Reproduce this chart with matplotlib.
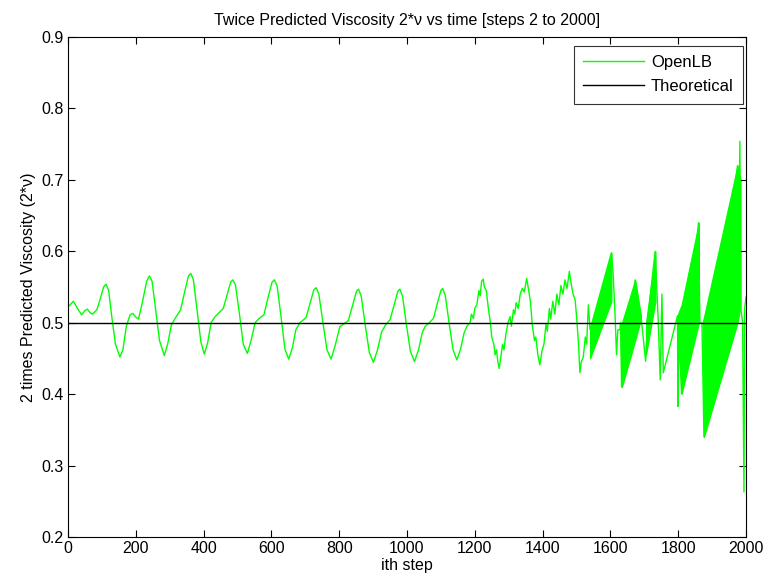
import numpy as np
import matplotlib
matplotlib.use("Agg")
import matplotlib.pyplot as plt

plt.rcParams['font.family'] = ['Liberation Sans', 'DejaVu Sans']

# OpenLB waypoints (step, 2*nu)
steps = [2, 10, 16, 28, 40, 50, 57, 65, 72, 85, 95, 105, 112, 120, 130, 140, 153, 162, 172, 183, 191, 200, 208,
         220, 232, 240, 248, 258, 270, 284, 294, 305, 316, 332, 345, 355, 362, 370, 380, 392, 402, 412, 422, 434,
         458, 470, 480, 486, 494, 505, 517, 529, 540, 552, 564, 578, 590, 602, 609, 617, 628, 640, 651, 662, 672,
         684, 702, 714, 725, 732, 740, 752, 764, 776, 788, 802, 827, 840, 851, 857, 865, 877, 889, 901, 913, 925,
         938, 950, 962, 973, 979, 987, 998, 1010, 1022, 1034, 1045, 1053, 1066, 1078, 1090, 1100, 1105, 1113, 1124,
         1136, 1147, 1158, 1168, 1176, 1186, 1190, 1196, 1200, 1206, 1212, 1216, 1220, 1225, 1228, 1234, 1240, 1246,
         1250, 1256, 1260, 1264, 1268, 1272, 1276, 1282, 1286, 1292, 1298, 1304, 1308, 1314, 1318, 1322, 1328, 1334,
         1340, 1346, 1353, 1358, 1364, 1370, 1376, 1380, 1386, 1392, 1398, 1404, 1410, 1414, 1420, 1424, 1430, 1436,
         1442, 1448, 1454, 1460, 1466, 1472, 1479, 1484, 1490, 1496, 1501, 1506, 1510, 1514, 1520, 1526, 1530, 1535,
         1540, 1603, 1608, 1614, 1618, 1622, 1628, 1630, 1633, 1673, 1690, 1704, 1710, 1732, 1741, 1747, 1752, 1756,
         1798, 1799, 1802, 1810, 1860, 1864, 1870, 1876, 1975, 1978, 1982, 1984, 1990, 1994, 1996, 2000]
viscosity = [0.523, 0.527, 0.530, 0.520, 0.511, 0.517, 0.519, 0.514, 0.512, 0.518, 0.533, 0.550, 0.554, 0.545, 0.505,
             0.470, 0.452, 0.462, 0.495, 0.511, 0.513, 0.508, 0.505,
             0.530, 0.558, 0.5655, 0.558, 0.520, 0.475, 0.454, 0.470, 0.497, 0.506, 0.518, 0.545, 0.565, 0.569, 0.560,
             0.520, 0.473, 0.456, 0.472, 0.500, 0.5085,
             0.520, 0.540, 0.557, 0.560, 0.553, 0.515, 0.470, 0.457, 0.475, 0.500, 0.506, 0.511, 0.535, 0.557, 0.560,
             0.551, 0.510, 0.463, 0.449, 0.465, 0.490,
             0.500, 0.507, 0.527, 0.546, 0.549, 0.540, 0.500, 0.462, 0.449, 0.468, 0.4945, 0.503, 0.525, 0.544, 0.547,
             0.537, 0.496, 0.458, 0.4445, 0.462, 0.487,
             0.498, 0.504, 0.525, 0.544, 0.547, 0.537, 0.498, 0.460, 0.4455, 0.462, 0.486, 0.4945, 0.500, 0.506, 0.528,
             0.545, 0.548, 0.538, 0.500,
             0.462, 0.448, 0.463, 0.485, 0.4945, 0.500, 0.512, 0.506, 0.520, 0.525, 0.545, 0.538, 0.558, 0.561, 0.550,
             0.545, 0.520, 0.500,
             0.480, 0.470, 0.455, 0.462, 0.445, 0.436, 0.450, 0.470, 0.462, 0.485, 0.500, 0.5085, 0.495, 0.518, 0.512,
             0.528, 0.520, 0.540,
             0.548, 0.543, 0.562, 0.548, 0.530, 0.495, 0.475, 0.480, 0.455, 0.441, 0.460, 0.470, 0.498, 0.488, 0.520,
             0.505, 0.530, 0.512,
             0.540, 0.525, 0.552, 0.540, 0.560, 0.548, 0.572, 0.555, 0.540, 0.532, 0.504, 0.470, 0.430, 0.445, 0.452,
             0.480, 0.470, 0.525,
             0.490, 0.598, 0.569, 0.508, 0.455, 0.490, 0.490, 0.500, 0.410, 0.560, 0.510, 0.446, 0.504, 0.600, 0.504,
             0.420, 0.540, 0.430,
             0.510, 0.3825, 0.510, 0.401, 0.640, 0.500, 0.500, 0.340, 0.720, 0.600, 0.754, 0.523, 0.500, 0.263, 0.520,
             0.536]

# period-2 oscillation bands at the end: steps, upper envelope, lower envelope
band_steps = [[1540, 1603], [1630, 1634, 1673, 1690], [1705, 1733], [1800, 1810, 1861], [1872, 1876, 1975, 1984]]
band_upper = [[0.49, 0.598], [0.50, 0.50, 0.56, 0.51], [0.50, 0.60], [0.513, 0.525, 0.64], [0.50, 0.508, 0.72, 0.70]]
band_lower = [[0.45, 0.53], [0.47, 0.41, 0.475, 0.505], [0.455, 0.53], [0.47, 0.40, 0.50], [0.47, 0.34, 0.50, 0.523]]

theory_value = 0.5

green = (0, 1, 0)
fs = 11.5

fig = plt.figure(figsize=(7.65, 5.83), dpi=100)
ax = fig.add_axes([68 / 765, 46 / 583, 678 / 765, 500 / 583])

ax.plot(steps, viscosity, color=green, lw=1.0, label='OpenLB')
for bx, bu, bl in zip(band_steps, band_upper, band_lower):
    ax.fill_between(bx, bl, bu, color=green, lw=0.8, edgecolor=green)
ax.plot([0, 2000], [theory_value, theory_value], color='black', lw=1.0, label='Theoretical')

ax.set_xlim(0, 2000)
ax.set_ylim(0.2, 0.9)
ax.set_xticks(np.arange(0, 2001, 200))
ax.set_yticks(np.arange(0.2, 0.91, 0.1))
ax.set_yticklabels(['0.2', '0.3', '0.4', '0.5', '0.6', '0.7', '0.8', '0.9'])
ax.tick_params(direction='in', top=True, right=True, length=5, width=0.8, labelsize=fs, pad=3)
for s in ax.spines.values():
    s.set_linewidth(0.8)

ax.set_title('Twice Predicted Viscosity 2*\u03bd vs time [steps 2 to 2000]', fontsize=fs, pad=9)
ax.set_xlabel('ith step', fontsize=fs, labelpad=1)
ax.set_ylabel('2 times Predicted Viscosity (2*\u03bd)', fontsize=fs, labelpad=4)

leg = ax.legend(loc='upper right', bbox_to_anchor=(675 / 678, 491 / 500), fontsize=12, frameon=True,
                fancybox=False, edgecolor='black', handlelength=3.7, handletextpad=0.4,
                borderaxespad=0, borderpad=0.55, labelspacing=0.55)
leg.get_frame().set_linewidth(0.8)

fig.savefig('out.png', dpi=100)
